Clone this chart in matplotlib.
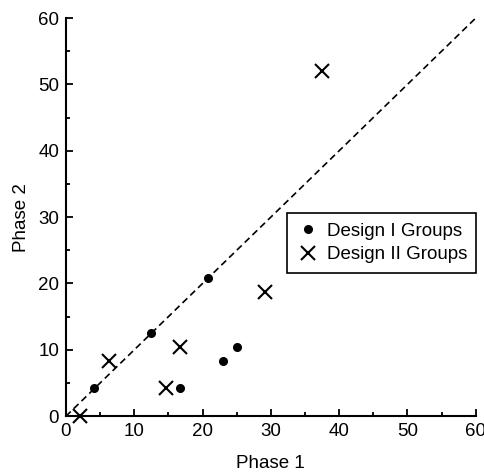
import matplotlib
matplotlib.use("Agg")
import matplotlib.pyplot as plt
from matplotlib.ticker import MultipleLocator

plt.rcParams['font.family'] = ['Liberation Sans', 'DejaVu Sans']

# данные
d1_x = [4.17, 12.5, 16.67, 22.92, 25.0, 20.83]
d1_y = [4.17, 12.5, 4.17, 8.33, 10.42, 20.83]
d2_x = [2.08, 6.25, 14.58, 16.67, 29.17, 37.5]
d2_y = [0.0, 8.33, 4.17, 10.42, 18.75, 52.08]
lim = [0, 60]

fig = plt.figure(figsize=(4.85, 4.74), dpi=100)
ax = fig.add_axes([0.136, 0.122, 0.845, 0.84])

ax.plot(lim, lim, color='black', linestyle=(0, (4, 2.5)), linewidth=1.2)
ax.plot(d1_x, d1_y, 'o', color='black', markersize=5.5, label='Design I Groups', clip_on=False)
ax.plot(d2_x, d2_y, 'x', color='black', markersize=10, markeredgewidth=1.5,
        label='Design II Groups', clip_on=False)

ax.set_xlim(lim)
ax.set_ylim(lim)
ax.xaxis.set_major_locator(MultipleLocator(10))
ax.yaxis.set_major_locator(MultipleLocator(10))
ax.xaxis.set_minor_locator(MultipleLocator(5))
ax.yaxis.set_minor_locator(MultipleLocator(5))
ax.tick_params(which='major', direction='in', length=5, width=1.3, labelsize=13.5, pad=5)
ax.tick_params(which='minor', direction='in', length=3, width=1.3)
for s in ['top', 'right']:
    ax.spines[s].set_visible(False)
for s in ['left', 'bottom']:
    ax.spines[s].set_linewidth(1.5)

ax.set_xlabel('Phase 1', fontsize=13.5, labelpad=11)
ax.set_ylabel('Phase 2', fontsize=13.5, labelpad=6)

leg = ax.legend(loc='upper left', bbox_to_anchor=(0.54, 0.51), fontsize=13.5,
                frameon=True, fancybox=False, edgecolor='black', framealpha=1,
                handletextpad=0.4, borderpad=0.5, handlelength=1.2, labelspacing=0.35,
                borderaxespad=0)
leg.get_frame().set_linewidth(1.2)

fig.savefig('out.png', dpi=100)
